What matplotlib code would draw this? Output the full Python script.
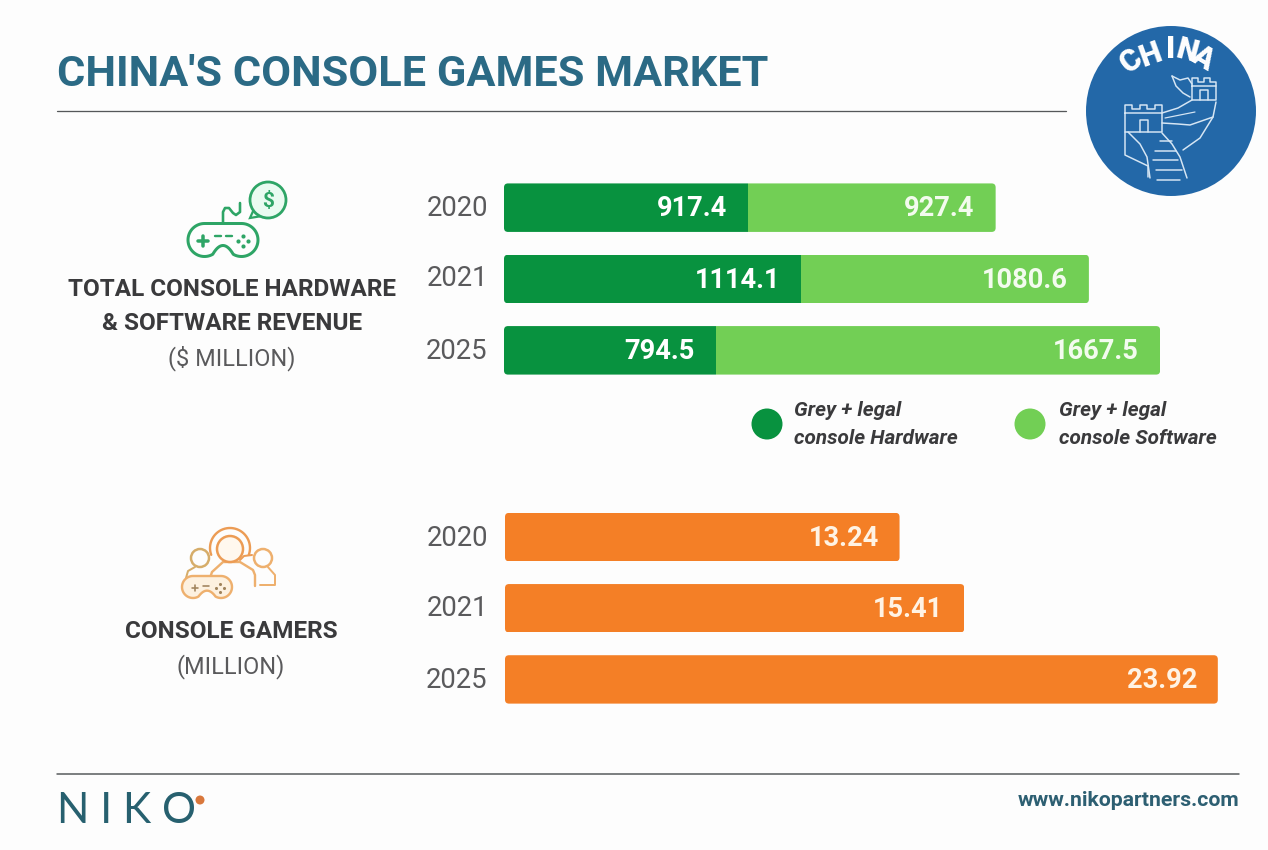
import numpy as np
import matplotlib
matplotlib.use("Agg")
import matplotlib.pyplot as plt
from matplotlib.patches import Circle, FancyBboxPatch, Polygon

years = ["2020", "2021", "2025"]
hardware = [917.4, 1114.1, 794.5]
software = [927.4, 1080.6, 1667.5]
gamers = [13.24, 15.41, 23.92]
hardware_labels = ["917.4", "1114.1", "794.5"]
software_labels = ["927.4", "1080.6", "1667.5"]
gamer_labels = ["13.24", "15.41", "23.92"]

W, H = 1268, 850
BG = "#fdfdfd"
DARK = "#3a3a3c"
GREY = "#5a5a5c"
TEAL = "#2b6a85"
DGREEN = "#08923f"
LGREEN = "#72cf55"
ORANGE = "#f47f26"
FONT = ["Roboto", "DejaVu Sans"]
LATO = ["Lato", "DejaVu Sans"]

fig = plt.figure(figsize=(W / 100, H / 100), dpi=100, facecolor=BG)
bgax = fig.add_axes([0, 0, 1, 1])
bgax.set_xlim(0, W)
bgax.set_ylim(H, 0)
bgax.axis("off")


def pax(x0, y0, x1, y1):
    return fig.add_axes([x0 / W, 1 - y1 / H, (x1 - x0) / W, (y1 - y0) / H])


def T(x, y, s, size, color=DARK, weight="normal", ha="center", family=FONT, **kw):
    return bgax.text(x, y, s, fontsize=size * 0.72, color=color, fontweight=weight,
                     ha=ha, va="center", family=family, **kw)


def L(xs, ys, color, lw=1.0, zorder=4, **kw):
    bgax.plot(xs, ys, color=color, lw=lw * 0.72, solid_capstyle="round",
              solid_joinstyle="round", zorder=zorder, **kw)


def round_row(ax, bars, total, i, px_per_x, px_per_y, height, r=4):
    """Clip a row's bars to a rounded rectangle of r pixels corner radius."""
    clip = FancyBboxPatch((0, i - height / 2), total, height,
                          boxstyle=f"round,pad=0,rounding_size={r / px_per_x}",
                          mutation_aspect=(px_per_x / px_per_y),
                          transform=ax.transData)
    for b in bars:
        b.set_clip_path(clip)


# Title and rules
T(57, 74, "CHINA'S CONSOLE GAMES MARKET", 43.3, TEAL, "bold", ha="left")
L([57, 1066], [111, 111], "#55585a", 1.3)
L([57, 1239], [774, 774], "#55585a", 1.5)

ypos = np.arange(3)
BAR_H = 0.68
VAL_SIZE = 19.6

# Revenue bars
SX1 = 0.2665
ax1 = pax(504, 172, 1240, 386)
ax1.set_xlim(0, 736 / SX1)
ax1.set_ylim(2.5, -0.5)
b_hw = ax1.barh(ypos, hardware, height=BAR_H, color=DGREEN)
b_sw = ax1.barh(ypos, software, left=hardware, height=BAR_H, color=LGREEN)
for i in ypos:
    round_row(ax1, [b_hw[i], b_sw[i]], hardware[i] + software[i], i, SX1, 214 / 3, BAR_H)
    ax1.text(hardware[i] - 79, i + 0.015, hardware_labels[i], color="white", fontsize=VAL_SIZE,
             fontweight="bold", ha="right", va="center", family=FONT)
    ax1.text(hardware[i] + software[i] - 79, i + 0.015, software_labels[i], color="#f3fbee",
             fontsize=VAL_SIZE, fontweight="bold", ha="right", va="center", family=FONT)
ax1.axis("off")

# Gamer bars
SX2 = 29.8
ax2 = pax(505, 501.5, 1240, 715)
ax2.set_xlim(0, 735 / SX2)
ax2.set_ylim(2.5, -0.5)
b_g = ax2.barh(ypos, gamers, height=BAR_H, color=ORANGE)
for i in ypos:
    round_row(ax2, [b_g[i]], gamers[i], i, SX2, 213.5 / 3, BAR_H)
    ax2.text(gamers[i] - 0.7, i + 0.015, gamer_labels[i], color="#fff3e4", fontsize=VAL_SIZE,
             fontweight="bold", ha="right", va="center", family=FONT)
ax2.axis("off")

# Year labels
for y, s in zip([208, 279, 351], years):
    T(457, y, s, 27.5, GREY)
for y, s in zip([538, 609, 681], years):
    T(457, y, s, 27.5, GREY)

# Left captions
T(232, 290, "TOTAL CONSOLE HARDWARE", 24.3, DARK, "bold")
T(232, 323, "& SOFTWARE REVENUE", 24.3, DARK, "bold")
T(232, 358, "($ MILLION)", 23.5, GREY)
T(231, 632, "CONSOLE GAMERS", 24.3, DARK, "bold")
T(231, 667, "(MILLION)", 23.5, GREY)

# Legend
bgax.add_patch(Circle((767, 424), 15.5, fc=DGREEN, ec="none"))
bgax.add_patch(Circle((1030, 424), 15.5, fc=LGREEN, ec="none"))
for x, second in zip([794, 1059], ["console Hardware", "console Software"]):
    T(x, 410, "Grey + legal", 20.8, DARK, "bold", ha="left", style="italic")
    T(x, 438, second, 20.8, DARK, "bold", ha="left", style="italic")

# Footer
T(1239, 801, "www.nikopartners.com", 21.3, "#2d5f72", "bold", ha="right")
T(57, 811, "N I K O", 42.5, "#27606f", "normal", ha="left", family=LATO)
bgax.add_patch(Circle((200, 800), 4.5, fc="#d9783c", ec="none"))

# China badge
BLUE = "#2368a8"
cx, cy, R = 1171, 111, 85
bgax.add_patch(Circle((cx, cy), R, fc=BLUE, ec="none"))
for ch, ang, rt in zip("CHINA", [-38, -20, 0, 15, 31], [64, 60, 62, 62, 62]):
    a = np.deg2rad(ang)
    bgax.text(cx + rt * np.sin(a), cy - rt * np.cos(a), ch, color="white", fontsize=22,
              fontweight="black", family=FONT, ha="center", va="center", rotation=-ang)
W1 = "#d6e6f4"
LW = 1.5
# near tower
L([1125, 1125, 1162, 1162, 1125], [113, 132, 132, 113, 113], W1, LW)
L([1125, 1125, 1132, 1132, 1140, 1140, 1147, 1147, 1155, 1155, 1162, 1162],
  [113, 105, 105, 109, 109, 105, 105, 109, 109, 105, 105, 113], W1, LW)
L([1140, 1140, 1148, 1148], [132, 120, 120, 132], W1, LW)
# wall body and stairs
L([1125, 1125, 1148, 1148], [132, 155, 166, 177], W1, LW)
L([1128, 1140, 1147, 1150], [132, 144, 157, 178], W1, LW)
L([1162, 1172, 1180, 1187], [133, 144, 157, 178], W1, LW)
L([1157, 1180], [180, 180], W1, LW)
for y, a, b in zip([141, 151, 160, 170], [1160, 1155, 1153, 1156], [1172, 1176, 1178, 1182]):
    L([a, b], [y, y], W1, LW)
# far section
L([1162, 1178, 1192], [113, 108, 100], W1, LW)
L([1162, 1178, 1190, 1213], [123, 124, 125, 117], W1, LW)
L([1165, 1180, 1195], [118, 115, 112], W1, LW * .8)
L([1216, 1213, 1200, 1183], [102, 117, 138, 150], W1, LW)
L([1192, 1192, 1216, 1216, 1192], [86, 100, 100, 86, 86], W1, LW)
L([1192, 1192, 1198, 1198, 1204, 1204, 1210, 1210, 1216, 1216],
  [86, 78, 78, 82, 82, 78, 78, 82, 82, 86], W1, LW)
L([1172, 1176, 1183, 1190], [76, 86, 93, 97], W1, LW)
L([1172, 1180, 1188, 1192], [76, 80, 78, 84], W1, LW)
L([1200, 1200, 1208, 1208], [100, 90, 90, 100], W1, LW)


def controller(x, y, w, h, col, lw, fill):
    """Gamepad outline centred on (x, y)."""
    r = h / 2
    lc, rc = x - w / 2 + r, x + w / 2 - r
    a1 = np.deg2rad(np.linspace(90, 300, 40))
    left = np.c_[lc + r * np.cos(a1), y - r * np.sin(a1)]
    a2 = np.deg2rad(np.linspace(240, 450, 40))
    right = np.c_[rc + r * np.cos(a2), y - r * np.sin(a2)]
    p0, p2 = left[-1], right[0]
    p1 = np.array([x, y - 0.1 * h])
    t = np.linspace(0, 1, 20)[:, None]
    notch = (1 - t) ** 2 * p0 + 2 * t * (1 - t) * p1 + t ** 2 * p2
    pts = np.vstack([left, notch, right])
    bgax.add_patch(Polygon(pts, closed=True, fc=fill, ec=col, lw=lw * 0.72, joinstyle="round", zorder=3))


# Revenue icon
GI = "#2ea566"
controller(223, 240, 70, 33, GI, 3, BG)
L([198, 208], [241, 241], GI, 3.5)
L([203, 203], [236, 246], GI, 3.5)
L([215, 221], [236, 236], GI, 2.4)
L([226, 232], [236, 236], GI, 2.4)
bgax.scatter([243, 248, 243, 238], [236, 241, 246, 241], s=9, color=GI, linewidths=0, zorder=4)
L([223, 223, 225, 229, 233, 236, 240, 240], [223, 212, 208, 208, 213, 215, 212, 203], GI, 2.6)
bgax.add_patch(Polygon([(254, 209), (250, 218), (262, 216)], fc="#eafbf1", ec=GI, lw=1.6, zorder=3))
bgax.add_patch(Circle((268, 200), 18, fc="#eafbf1", ec=GI, lw=2, zorder=3))
bgax.text(268, 201, "$", color=GI, fontsize=15, fontweight="bold", ha="center", va="center",
          family=FONT, zorder=4)

# Gamers icon
OI = "#eeb06e"
OD = "#ec9c55"
FILL = "#fdf1e0"
bgax.add_patch(Circle((200, 558), 9, fc="none", ec="#d6ad6a", lw=1.8))
L([186, 188, 195], [578, 571, 567], "#d6ad6a", 2, zorder=2)
bgax.add_patch(Circle((263, 558), 9, fc="none", ec=OI, lw=1.8))
L([267, 275, 275, 260], [566, 575, 585, 585], OI, 2, zorder=2)
L([210, 212, 223, 240, 253, 255, 255], [578, 572, 562, 562, 570, 575, 586], OI, 2.4, zorder=2)
a = np.deg2rad(np.linspace(-20, 200, 40))
L(230 + 20 * np.cos(a), 548 - 20 * np.sin(a), OD, 2.4, zorder=2)
bgax.add_patch(Circle((230, 549), 13, fc="#fff8ee", ec=OD, lw=1.8, zorder=2))
L([240, 244, 252], [560, 556, 555], OD, 2)
controller(207, 587, 50, 22, OI, 2.4, FILL)
L([192, 198], [588, 588], "#a0835c", 1.6)
L([195, 195], [585, 591], "#a0835c", 1.6)
L([203, 209], [586, 586], "#a0835c", 1.6)
bgax.scatter([220, 224, 220, 216], [584, 588, 592, 588], s=5, color="#a0835c", linewidths=0, zorder=4)

fig.savefig("out.png", dpi=100, facecolor=BG)
